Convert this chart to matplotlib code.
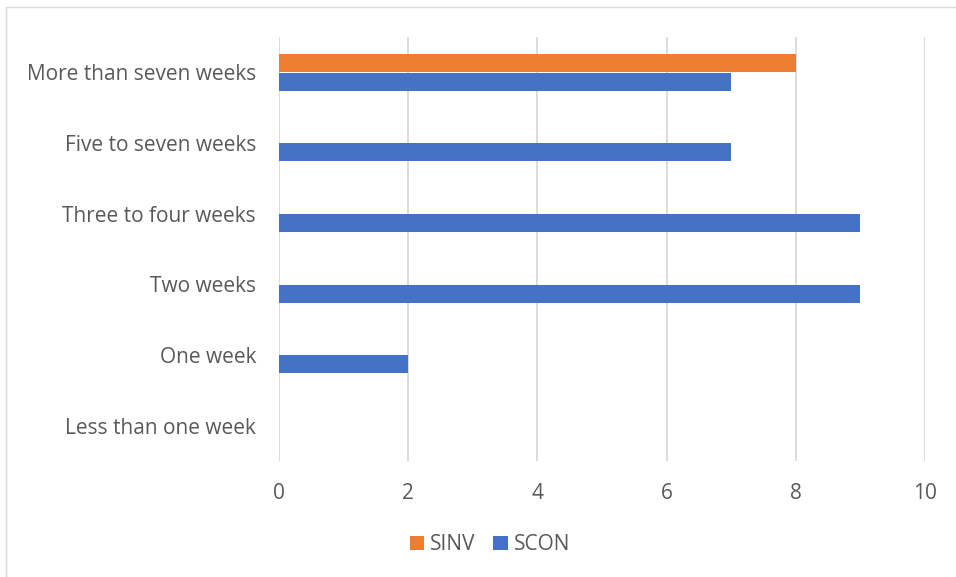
import matplotlib.pyplot as plt
from matplotlib.patches import Rectangle
import numpy as np

categories = ["Less than one week", "One week", "Two weeks",
              "Three to four weeks", "Five to seven weeks", "More than seven weeks"]
sinv = [0, 0, 0, 0, 0, 8]
scon = [0, 2, 9, 9, 7, 7]
xticks = [0, 2, 4, 6, 8, 10]

text_col = '#595959'
plt.rcParams['font.family'] = ['Open Sans', 'DejaVu Sans']

W, H = 956, 577
fig = plt.figure(figsize=(W / 100, H / 100), dpi=100)

# light chart border (Excel style), right/bottom edges run off the image
fig.patches.append(Rectangle((6 / W, -0.1), 1.2, 1 - 7 / H + 0.1, transform=fig.transFigure,
                             fill=False, edgecolor='#D9D9D9', linewidth=1.0))

ax = fig.add_axes([279 / W, 1 - 461 / H, (925 - 279) / W, (461 - 37) / H])

y = np.arange(len(categories))
h = 0.255
off = 0.134
ax.barh(y + off, sinv, height=h, color='#ED7D31', linewidth=0, label='SINV', zorder=3)
ax.barh(y - off, scon, height=h, color='#4472C4', linewidth=0, label='SCON', zorder=3)

ax.set_xlim(0, 10)
ax.set_ylim(-0.5, len(categories) - 0.5)
ax.set_xticks(xticks)
ax.set_xticklabels([str(t) for t in xticks])
ax.set_yticks(y)
ax.set_yticklabels(categories)
ax.grid(axis='x', color='#D9D9D9', linewidth=1.3, zorder=0)
for s in ax.spines.values():
    s.set_visible(False)
ax.tick_params(axis='both', length=0, labelsize=15, labelcolor=text_col)
ax.tick_params(axis='x', pad=16)
ax.tick_params(axis='y', pad=16.5)

fig.legend(loc='center', bbox_to_anchor=(490 / W, 1 - 545 / H), ncol=2, frameon=False,
           fontsize=15, labelcolor=text_col, handlelength=0.68, handleheight=0.68,
           handletextpad=0.3, columnspacing=0.85)

fig.savefig('out.png', dpi=100)
